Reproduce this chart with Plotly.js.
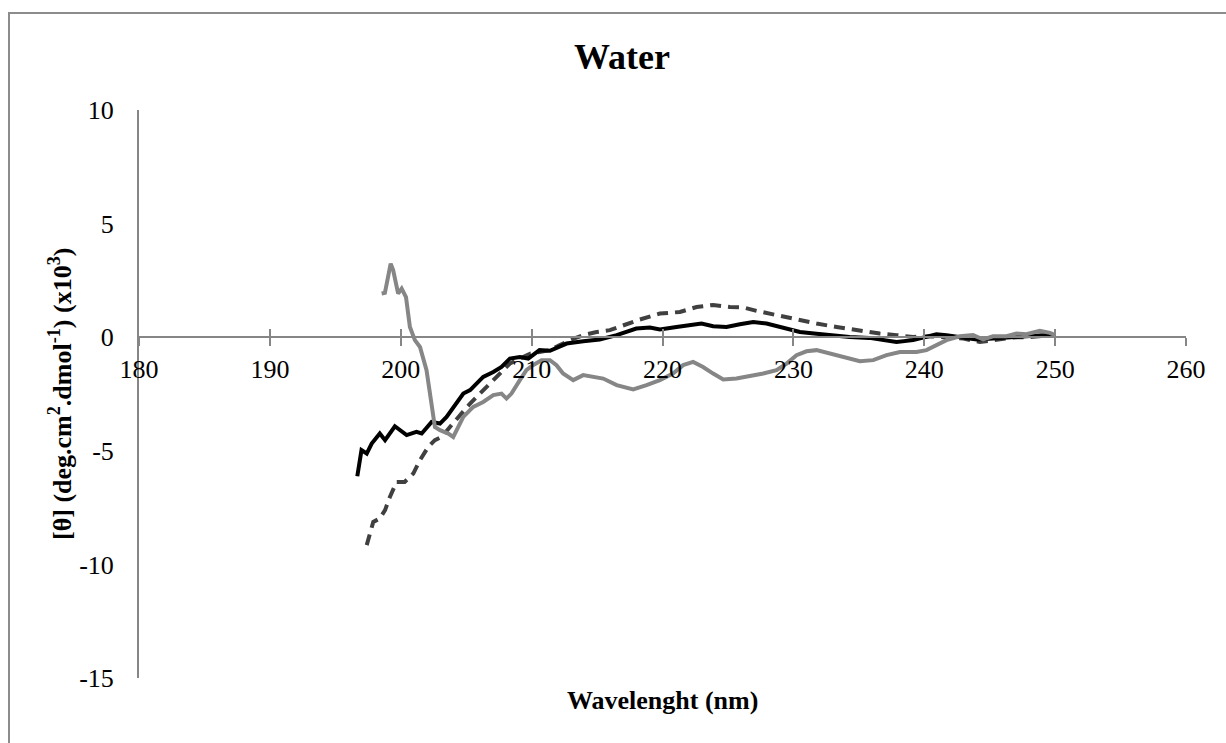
<!DOCTYPE html>
<html>
<head>
<meta charset="utf-8">
<script src="https://cdn.plot.ly/plotly-3.0.1.min.js"></script>
<style>
html,body{margin:0;padding:0;background:#fff;overflow:hidden;}
#wrap{position:relative;width:1226px;height:743px;overflow:hidden;}
#frame{position:absolute;left:8px;top:12px;width:1400px;height:900px;border-top:2px solid #8c8c8c;border-left:2px solid #8c8c8c;}
#chart{position:absolute;left:0;top:0;width:1226px;height:743px;}
</style>
</head>
<body>
<div id="wrap"><div id="frame"></div><div id="chart"></div></div>
<script>
// Wavelength (nm) and molar ellipticity (x10^3)
const blackX = [196.68,197.0,197.4,197.78,198.4,198.8,199.55,200.45,201.2,201.6,202.36,203.0,203.5,204.27,204.78,205.3,206.3,207.07,207.7,208.34,209.1,209.74,210.6,211.4,212.16,212.67,213.94,215.2,216.5,218.0,219.04,219.8,221.07,222.1,222.98,223.87,224.89,225.91,226.93,227.95,229.22,230.5,231.77,233.04,234.3,235.8,236.6,237.88,239.15,240.17,240.93,241.7,242.72,244.0,245.26,246.5,247.8,249.1,250.0];
const blackY = [-6.12,-4.97,-5.12,-4.68,-4.24,-4.53,-3.92,-4.31,-4.17,-4.24,-3.73,-3.8,-3.51,-2.92,-2.48,-2.33,-1.75,-1.53,-1.31,-0.94,-0.87,-0.94,-0.57,-0.6,-0.43,-0.28,-0.18,-0.1,0.09,0.38,0.43,0.34,0.45,0.53,0.6,0.48,0.45,0.57,0.67,0.6,0.43,0.23,0.15,0.06,0.01,-0.03,-0.1,-0.21,-0.13,0.01,0.13,0.09,-0.01,-0.1,-0.06,0.01,0.04,0.09,0.09];

const dashX = [197.4,197.64,197.9,198.4,198.8,199.17,199.68,200.3,200.96,201.47,202.1,202.61,203.12,203.76,204.5,205.3,206.05,206.8,207.6,208.34,209.1,209.9,210.6,211.4,212.16,212.93,213.94,214.96,215.98,216.99,218.27,219.8,221.33,222.6,223.87,225.15,226.16,227.18,228.71,230.24,231.77,233.3,234.83,236.6,237.88,239.15,240.4,241.7,243.0,244.25,245.5,246.8,248.07,249.85];
const dashY = [-9.15,-8.64,-8.13,-7.98,-7.61,-7.03,-6.37,-6.37,-6.0,-5.41,-4.83,-4.53,-4.39,-3.95,-3.43,-2.92,-2.48,-2.04,-1.6,-1.16,-0.94,-0.72,-0.65,-0.57,-0.35,-0.13,0.09,0.23,0.31,0.53,0.78,1.04,1.11,1.33,1.42,1.33,1.31,1.16,0.97,0.75,0.6,0.45,0.31,0.16,0.09,0.01,0.04,0.01,-0.06,-0.21,-0.13,-0.01,0.01,0.09];

const grayX = [198.54,198.79,199.23,199.42,199.8,200.07,200.4,200.7,201.08,201.47,201.97,202.23,202.61,203.0,203.63,204.01,204.27,204.78,205.54,206.3,207.07,207.7,208.08,208.46,209.1,209.6,210.1,210.76,211.4,211.9,212.4,213.18,213.94,214.7,215.47,216.5,217.76,218.78,219.8,220.8,221.58,222.34,223.1,223.87,224.64,225.65,226.67,227.7,228.71,229.48,230.24,231.0,231.77,232.53,233.55,234.3,235.08,236.1,237.12,238.14,239.4,240.17,240.93,241.7,242.72,243.73,244.5,245.26,246.28,247.05,247.8,248.83,249.6,250.0];
const grayY = [1.92,1.95,3.24,2.95,1.92,2.14,1.77,0.45,-0.13,-0.43,-1.45,-2.48,-3.95,-4.09,-4.24,-4.39,-4.09,-3.51,-3.07,-2.85,-2.55,-2.48,-2.7,-2.48,-1.89,-1.45,-1.23,-1.01,-1.01,-1.23,-1.6,-1.89,-1.67,-1.75,-1.82,-2.11,-2.3,-2.11,-1.89,-1.6,-1.23,-1.09,-1.31,-1.6,-1.86,-1.82,-1.72,-1.6,-1.45,-1.16,-0.79,-0.62,-0.57,-0.69,-0.84,-0.98,-1.06,-1.01,-0.79,-0.65,-0.65,-0.57,-0.35,-0.13,0.04,0.09,-0.1,0.04,0.04,0.16,0.13,0.28,0.19,0.09];

const xTicks = [180,190,200,210,220,230,240,250,260];
const yTicks = [-15,-10,-5,0,5,10];

const serif = 'Liberation Serif, Times New Roman, serif';

const traces = [
  {x: dashX, y: dashY, mode: 'lines', xaxis: 'x', yaxis: 'y',
   line: {color: '#404040', width: 4, dash: '11px,7px'}},
  {x: blackX, y: blackY, mode: 'lines', xaxis: 'x', yaxis: 'y',
   line: {color: '#000000', width: 4}},
  {x: grayX, y: grayY, mode: 'lines', xaxis: 'x2', yaxis: 'y',
   line: {color: '#868686', width: 4}}
];

const layout = {
  width: 1226, height: 743,
  margin: {l: 139, r: 40, t: 110, b: 65},
  paper_bgcolor: 'rgba(0,0,0,0)', plot_bgcolor: 'rgba(0,0,0,0)',
  showlegend: false,
  font: {family: serif, color: '#000', size: 26},
  title: {text: '<b>Water</b>', font: {family: serif, size: 36, color: '#000'},
          x: 622/1226, xanchor: 'center', xref: 'container',
          y: 1 - 56/743, yanchor: 'middle', yref: 'container'},
  xaxis: {range: [180, 260], tickvals: xTicks, ticktext: xTicks.map(String),
          anchor: 'free', position: 0.6, showgrid: false, zeroline: false,
          showline: true, linecolor: '#868686', linewidth: 2,
          ticks: 'outside', ticklen: 8, tickwidth: 2, tickcolor: '#868686',
          ticklabelstandoff: 1,
          tickfont: {family: serif, size: 26, color: '#000'}},
  xaxis2: {matches: 'x', overlaying: 'x', anchor: 'free', position: 0.6,
           range: [180, 260], tickvals: xTicks, showticklabels: false,
           showgrid: false, zeroline: false, showline: false,
           ticks: 'inside', ticklen: 8, tickwidth: 2, tickcolor: '#868686'},
  yaxis: {range: [-15, 10], tickvals: yTicks, ticktext: yTicks.map(String),
          showgrid: false, zeroline: false,
          showline: true, linecolor: '#868686', linewidth: 2,
          ticks: 'outside', ticklen: 18, tickcolor: 'rgba(0,0,0,0)',
          tickfont: {family: serif, size: 26, color: '#000'}},
  annotations: [
    {text: '<b>Wavelenght (nm)</b>', xref: 'paper', yref: 'paper',
     x: 0.5, y: (678 - 700) / 568, xanchor: 'center', yanchor: 'middle',
     showarrow: false, font: {family: serif, size: 26, color: '#000'}},
    {text: '<b>[θ] (deg.cm<sup>2</sup>.dmol<sup>-1</sup>) (x10<sup>3</sup>)</b>',
     xref: 'paper', yref: 'paper', textangle: -90,
     x: (60 - 139) / 1047, y: 0.5, xanchor: 'center', yanchor: 'middle',
     showarrow: false, font: {family: serif, size: 26, color: '#000'}}
  ]
};

Plotly.newPlot('chart', traces, layout, {displayModeBar: false, staticPlot: true});
</script>
</body>
</html>
